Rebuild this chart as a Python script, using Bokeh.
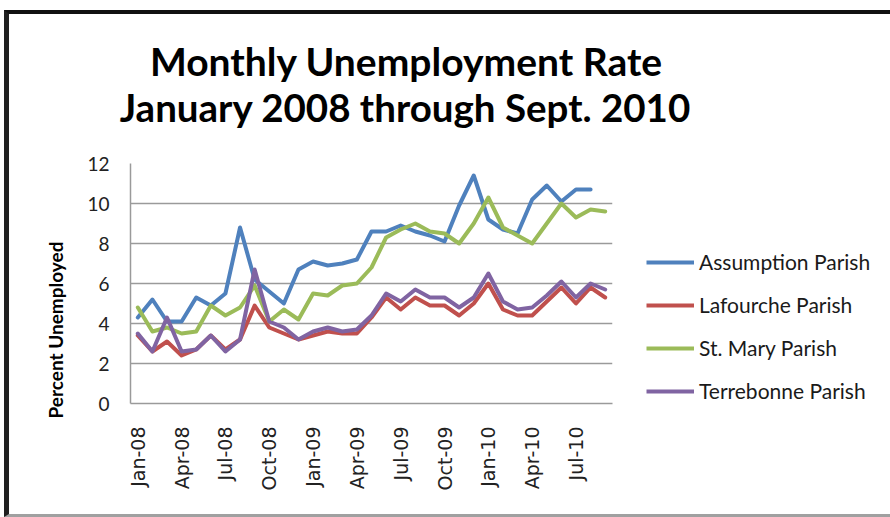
import math
from bokeh.plotting import figure
from bokeh.layouts import row, column
from bokeh.models import (Range1d, FixedTicker, ColumnDataSource, Legend, LegendItem, Title,
                          Label)
from bokeh.embed import file_html
from bokeh.resources import INLINE

months = ["Jan-08", "Feb-08", "Mar-08", "Apr-08", "May-08", "Jun-08", "Jul-08", "Aug-08",
          "Sep-08", "Oct-08", "Nov-08", "Dec-08", "Jan-09", "Feb-09", "Mar-09", "Apr-09",
          "May-09", "Jun-09", "Jul-09", "Aug-09", "Sep-09", "Oct-09", "Nov-09", "Dec-09",
          "Jan-10", "Feb-10", "Mar-10", "Apr-10", "May-10", "Jun-10", "Jul-10", "Aug-10",
          "Sep-10"]
tick_labels = ["Jan-08", "Apr-08", "Jul-08", "Oct-08", "Jan-09", "Apr-09", "Jul-09",
               "Oct-09", "Jan-10", "Apr-10", "Jul-10"]

assumption = [4.3, 5.2, 4.1, 4.1, 5.3, 4.9, 5.5, 8.8, 6.2, 5.6, 5.0, 6.7, 7.1, 6.9, 7.0, 7.2,
              8.6, 8.6, 8.9, 8.6, 8.4, 8.1, 9.9, 11.4, 9.2, 8.7, 8.5, 10.2, 10.9, 10.1, 10.7,
              10.7]
lafourche = [3.4, 2.6, 3.1, 2.4, 2.7, 3.4, 2.7, 3.2, 4.9, 3.8, 3.5, 3.2, 3.4, 3.6, 3.5, 3.5,
             4.3, 5.3, 4.7, 5.3, 4.9, 4.9, 4.4, 5.0, 6.0, 4.7, 4.4, 4.4, 5.1, 5.8, 5.0, 5.8,
             5.3]
st_mary = [4.8, 3.6, 3.8, 3.5, 3.6, 4.9, 4.4, 4.8, 5.9, 4.1, 4.7, 4.2, 5.5, 5.4, 5.9, 6.0,
           6.8, 8.3, 8.7, 9.0, 8.6, 8.5, 8.0, 9.0, 10.3, 8.8, 8.4, 8.0, 9.0, 10.0, 9.3, 9.7,
           9.6]
terrebonne = [3.5, 2.6, 4.3, 2.6, 2.7, 3.4, 2.6, 3.2, 6.7, 4.1, 3.8, 3.2, 3.6, 3.8, 3.6, 3.7,
              4.4, 5.5, 5.1, 5.7, 5.3, 5.3, 4.8, 5.3, 6.5, 5.1, 4.7, 4.8, 5.4, 6.1, 5.3, 6.0,
              5.7]

title_lines = ["Monthly Unemployment Rate", "January 2008 through Sept. 2010"]
y_label = "Percent Unemployed"
series_names = ["Assumption Parish", "Lafourche Parish", "St. Mary Parish", "Terrebonne Parish"]
series_values = [assumption, lafourche, st_mary, terrebonne]
colors = ["#4F81BD", "#C0504D", "#9BBB59", "#8064A2"]
y_ticks = [0, 2, 4, 6, 8, 10, 12]
x_ticks = [months.index(t) for t in tick_labels]

# ---- title strip ----
pt = figure(width=881, height=125, x_range=Range1d(0, 1), y_range=Range1d(0, 1),
            output_backend="svg", toolbar_location=None, x_axis_type=None,
            y_axis_type=None, min_border_left=0, min_border_right=0, min_border_top=0,
            min_border_bottom=0)
pt.outline_line_color = None
pt.background_fill_color = "white"
pt.border_fill_color = "white"
pt.xgrid.visible = False
pt.ygrid.visible = False
pt.add_layout(Label(x=397, y=79, x_units="screen", y_units="screen", text=title_lines[0],
                    text_font="Lato", text_font_size="39px", text_font_style="bold",
                    text_align="center", text_baseline="alphabetic", text_color="#000000"))
pt.add_layout(Label(x=396, y=33, x_units="screen", y_units="screen", text=title_lines[1],
                    text_font="Lato", text_font_size="38.5px", text_font_style="bold",
                    text_align="center", text_baseline="alphabetic", text_color="#000000"))

# ---- main chart ----
p = figure(width=613, height=375, x_range=Range1d(-0.5, len(months) - 0.5),
           y_range=Range1d(0, 12), output_backend="svg", toolbar_location=None,
           min_border_left=121, min_border_right=10, min_border_top=24,
           min_border_bottom=111)
p.outline_line_color = None
p.background_fill_color = "white"
p.border_fill_color = "white"

for name, vals, col in zip(series_names, series_values, colors):
    src = ColumnDataSource(dict(x=[months.index(m) for m in months[:len(vals)]], y=vals))
    p.line("x", "y", source=src, line_color=col, line_width=4,
           line_join="round", line_cap="round")

p.yaxis.ticker = FixedTicker(ticks=y_ticks)
p.yaxis.major_tick_line_color = None
p.yaxis.minor_tick_line_color = None
p.yaxis.axis_line_color = "#9a9a9a"
p.yaxis.axis_line_width = 1.5
p.yaxis.major_label_text_font = "Lato"
p.yaxis.major_label_text_font_size = "19px"
p.yaxis.major_label_text_color = "#222222"
p.yaxis.major_label_standoff = 15

p.xaxis.ticker = FixedTicker(ticks=x_ticks)
p.xaxis.major_tick_line_color = None
p.xaxis.minor_tick_line_color = None
p.xaxis.axis_line_color = "#9a9a9a"
p.xaxis.axis_line_width = 1.5
p.xaxis.major_label_orientation = math.pi / 2
p.xaxis.major_label_text_font = "DejaVu Sans"
p.xaxis.major_label_text_font_size = "19px"
p.xaxis.major_label_text_color = "#222222"
p.xaxis.major_label_standoff = 17
p.xaxis.major_label_overrides = {months.index(t): t for t in tick_labels}

p.xgrid.grid_line_color = None
p.ygrid.ticker = FixedTicker(ticks=y_ticks)
p.ygrid.grid_line_color = "#9a9a9a"
p.ygrid.grid_line_width = 1.5

ylab = Title(text=y_label, align="left", offset=-15, standoff=36,
             text_font="Lato", text_font_size="19px", text_font_style="bold",
             text_color="#000000")
p.add_layout(ylab, "left")

# ---- legend panel (same frame rows as the chart) ----
pl = figure(width=268, height=375, x_range=Range1d(0, 1), y_range=Range1d(0, 1),
            output_backend="svg", toolbar_location=None, x_axis_type=None,
            y_axis_type=None, min_border_left=0, min_border_right=0, min_border_top=24,
            min_border_bottom=111)
pl.outline_line_color = None
pl.background_fill_color = "white"
pl.border_fill_color = "white"
pl.xgrid.visible = False
pl.ygrid.visible = False

items = []
for name, col in zip(series_names, colors):
    r = pl.line(x=[float("nan")], y=[float("nan")], line_color=col, line_width=4)
    items.append(LegendItem(label=name, renderers=[r]))

legend = Legend(items=items, location=(24, 0), orientation="vertical")
legend.label_text_font = "Lato"
legend.label_text_font_size = "21px"
legend.label_text_color = "#1a1a1a"
legend.glyph_width = 48
legend.glyph_height = 24
legend.label_height = 24
legend.spacing = 18
legend.padding = 1
legend.margin = 0
legend.label_standoff = 5
legend.border_line_color = None
legend.background_fill_alpha = 0
pl.add_layout(legend)

layout = column(pt, row(p, pl),
                styles={"margin-left": "4px", "margin-top": "10px",
                        "border-left": "5px solid #202020",
                        "border-top": "4px solid #111111",
                        "border-bottom": "3px solid #a0a0a0"})

open("out.html", "w").write(file_html(layout, INLINE))
